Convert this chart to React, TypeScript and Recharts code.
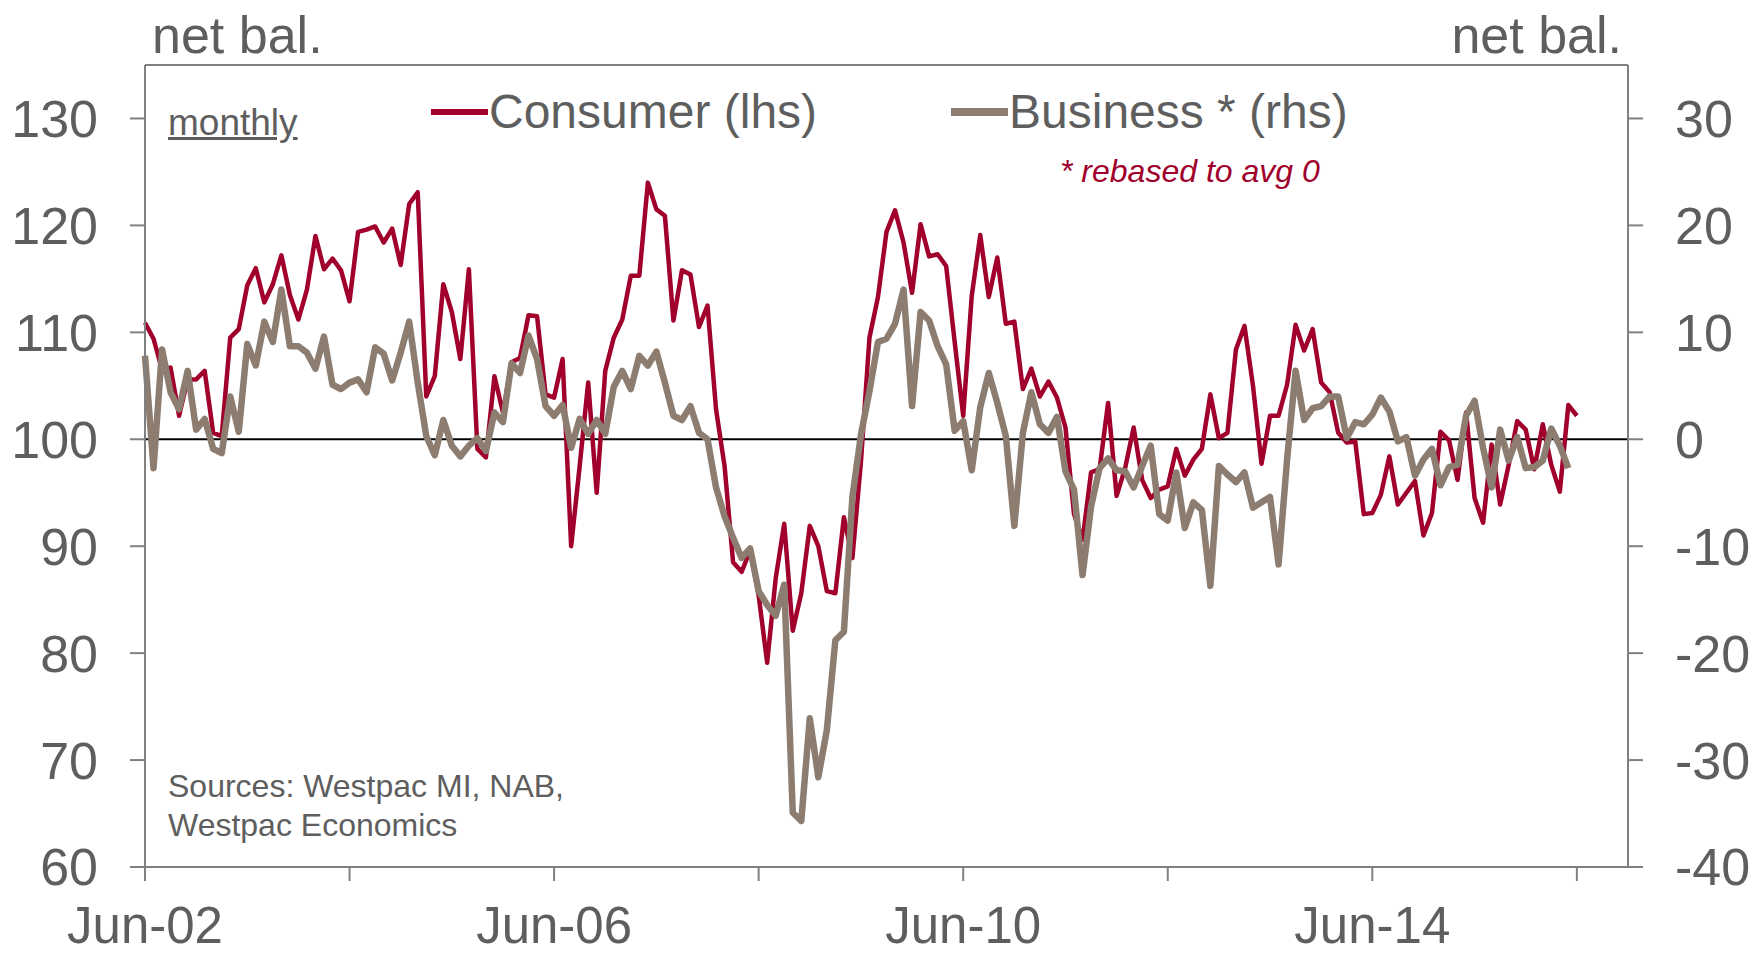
import React from "react";
import { LineChart, Line, XAxis, YAxis, ReferenceLine } from "recharts";

if (typeof document !== "undefined") document.body.style.margin = "0";

// monthly, Jun-02 .. Jun-16 (index = months since Jun-02)
const consumer = [
  110.9, 109.4, 106.5, 106.7, 102.2, 105.6, 105.6, 106.4, 100.6, 100.3,
  109.5, 110.3, 114.4, 116.0, 112.8, 114.5, 117.2, 113.5, 111.2, 114.0,
  119.0, 115.9, 116.9, 115.8, 112.9, 119.4, 119.6, 119.9, 118.4, 119.7,
  116.3, 122.0, 123.1, 104.0, 105.9, 114.5, 111.9, 107.5, 115.9, 99.1,
  98.3, 105.9, 102.5, 107.2, 107.6, 111.6, 111.5, 104.2, 103.9, 107.5,
  90.0, 97.5, 105.3, 95.0, 106.4, 109.5, 111.2, 115.3, 115.3, 124.0,
  121.5, 120.9, 111.1, 115.8, 115.4, 110.5, 112.5, 102.8, 97.5, 88.5,
  87.6, 89.6, 85.4, 79.1, 87.0, 92.1, 82.1, 85.6, 91.9, 90.0,
  85.8, 85.6, 92.7, 88.9, 97.9, 109.5, 113.3, 119.4, 121.4, 118.4,
  113.7, 120.1, 117.1, 117.3, 116.2, 109.1, 102.2, 113.4, 119.1, 113.3,
  117.0, 110.8, 111.0, 104.7, 106.6, 104.0, 105.4, 103.9, 101.1, 93.0,
  90.6, 96.9, 97.2, 103.4, 94.7, 97.3, 101.1, 96.2, 94.5, 95.3,
  95.6, 99.1, 96.6, 98.1, 99.1, 104.2, 100.1, 100.6, 108.4, 110.6,
  105.0, 97.7, 102.2, 102.2, 105.1, 110.7, 108.3, 110.3, 105.3, 104.4,
  100.6, 99.7, 99.8, 93.0, 93.1, 94.8, 98.4, 93.9, 95.0, 96.1,
  91.0, 93.1, 100.7, 99.9, 96.2, 102.5, 94.5, 92.2, 99.5, 93.9,
  97.6, 101.7, 100.9, 97.2, 101.4, 97.6, 95.1, 103.2, 102.2,
];

// rebased to average 0, ends one month earlier
const business = [
  7.8, -2.7, 8.4, 4.4, 2.8, 6.4, 0.9, 1.9, -0.9, -1.3,
  4.0, 0.7, 8.9, 6.9, 11.0, 9.1, 14.0, 8.7, 8.7, 8.1,
  6.6, 9.6, 5.1, 4.7, 5.3, 5.6, 4.4, 8.6, 8.0, 5.5,
  8.1, 11.0, 5.3, 0.3, -1.5, 1.8, -0.6, -1.6, -0.6, 0.1,
  -1.1, 2.5, 1.6, 7.1, 6.2, 9.7, 7.5, 3.1, 2.2, 3.2,
  -0.8, 1.9, 0.5, 1.8, 0.5, 4.9, 6.4, 4.7, 7.8, 6.9,
  8.2, 5.3, 2.2, 1.8, 3.1, 0.6, 0.0, -4.5, -7.2, -9.2,
  -11.1, -10.2, -14.2, -15.5, -16.5, -13.6, -34.9, -35.7, -26.1, -31.6,
  -27.2, -18.8, -18.0, -5.4, 0.4, 4.5, 9.1, 9.4, 10.8, 14.0,
  3.1, 11.9, 11.1, 8.7, 7.0, 0.8, 1.7, -2.9, 3.0, 6.2,
  3.4, 0.3, -8.1, 0.6, 4.4, 1.4, 0.6, 2.1, -3.0, -4.7,
  -12.7, -6.3, -2.7, -1.8, -2.9, -3.0, -4.5, -2.5, -0.6, -7.0,
  -7.6, -3.1, -8.3, -5.9, -6.6, -13.7, -2.5, -3.3, -4.0, -3.1,
  -6.4, -5.9, -5.4, -11.7, -1.9, 6.4, 1.8, 2.9, 3.1, 4.0,
  4.0, 0.1, 1.6, 1.4, 2.3, 3.9, 2.6, -0.2, 0.2, -3.4,
  -1.9, -0.9, -4.3, -2.6, -2.4, 2.2, 3.6, -0.8, -4.5, 0.9,
  -2.0, 0.2, -2.7, -2.6, -2.0, 1.0, -0.6, -2.7,
];

const xTicks = [0, 24, 48, 72, 96, 120, 144, 168];
const xTickLabels: Record<number, string> = { 0: "Jun-02", 48: "Jun-06", 96: "Jun-10", 144: "Jun-14" };
const leftTicks = [60, 70, 80, 90, 100, 110, 120, 130];
const rightTicks = [-40, -30, -20, -10, 0, 10, 20, 30];

const data = consumer.map((v, i) => ({
  m: i,
  consumer: v,
  business: i < business.length ? business[i] : null,
}));

const RED = "#A0002B";
const TAUPE = "#8C7D70";
const GREY = "#808080";
const TEXT = "#5E5E5E";
const FONT = "'Liberation Sans', Arial, sans-serif";

const series = [
  { key: "consumer", name: "Consumer (lhs)", color: RED, width: 4.5, axis: "left", lx: 431 },
  { key: "business", name: "Business * (rhs)", color: TAUPE, width: 6.5, axis: "right", lx: 951 },
];

const tickStyle = { fill: TEXT, fontSize: 52, fontFamily: FONT };

export default function App() {
  return (
    <div style={{ position: "relative", width: 1754, height: 953, fontFamily: FONT, background: "#fff" }}>
      <LineChart width={1754} height={953} data={data} margin={{ top: 65, right: 0, bottom: 0, left: 0 }}>
        <XAxis
          dataKey="m"
          type="number"
          domain={[0, 174]}
          ticks={xTicks}
          interval={0}
          tickFormatter={(v: number) => xTickLabels[v] ?? ""}
          height={86}
          tickSize={14}
          tickMargin={26}
          stroke={GREY}
          strokeWidth={2}
          tick={{ ...tickStyle, fontSize: 51 }}
        />
        <YAxis
          yAxisId="left"
          domain={[60, 135]}
          ticks={leftTicks}
          interval={0}
          width={145}
          tickSize={15}
          tickMargin={32}
          stroke={GREY}
          strokeWidth={2}
          tick={tickStyle}
        />
        <YAxis
          yAxisId="right"
          orientation="right"
          domain={[-40, 35]}
          ticks={rightTicks}
          interval={0}
          width={126}
          tickSize={15}
          tickMargin={32}
          stroke={GREY}
          strokeWidth={2}
          tick={tickStyle}
        />
        <ReferenceLine yAxisId="left" y={100} stroke="#000" strokeWidth={2} />
        {series.map((s) => (
          <Line
            key={s.key}
            yAxisId={s.axis}
            dataKey={s.key}
            name={s.name}
            type="linear"
            stroke={s.color}
            strokeWidth={s.width}
            dot={false}
            activeDot={false}
            strokeLinejoin="round"
            isAnimationActive={false}
          />
        ))}
      </LineChart>

      {/* top border of the plot box */}
      <div style={{ position: "absolute", left: 145, top: 64, width: 1483, height: 2, background: GREY }} />

      <div style={{ position: "absolute", left: 152, top: 9, fontSize: 52, lineHeight: 1, color: TEXT }}>net bal.</div>
      <div style={{ position: "absolute", right: 132, top: 9, fontSize: 52, lineHeight: 1, color: TEXT }}>net bal.</div>

      <div
        style={{
          position: "absolute", left: 168, top: 104, fontSize: 37, lineHeight: 1,
          color: TEXT, textDecoration: "underline",
        }}
      >
        monthly
      </div>

      {series.map((s) => (
        <div
          key={s.key}
          style={{ position: "absolute", left: s.lx, top: 88, display: "flex", alignItems: "center", height: 48 }}
        >
          <div style={{ width: 57, height: s.width + 1, background: s.color }} />
          <div style={{ fontSize: 48, lineHeight: 1, color: TEXT, marginLeft: 1 }}>{s.name}</div>
        </div>
      ))}

      <div style={{ position: "absolute", left: 1060, top: 155, fontSize: 32, lineHeight: 1, color: RED, fontStyle: "italic" }}>
        * rebased to avg 0
      </div>

      <div style={{ position: "absolute", left: 168, top: 767, fontSize: 32, lineHeight: "39px", color: TEXT }}>
        Sources: Westpac MI, NAB,
        <br />
        Westpac Economics
      </div>
    </div>
  );
}
